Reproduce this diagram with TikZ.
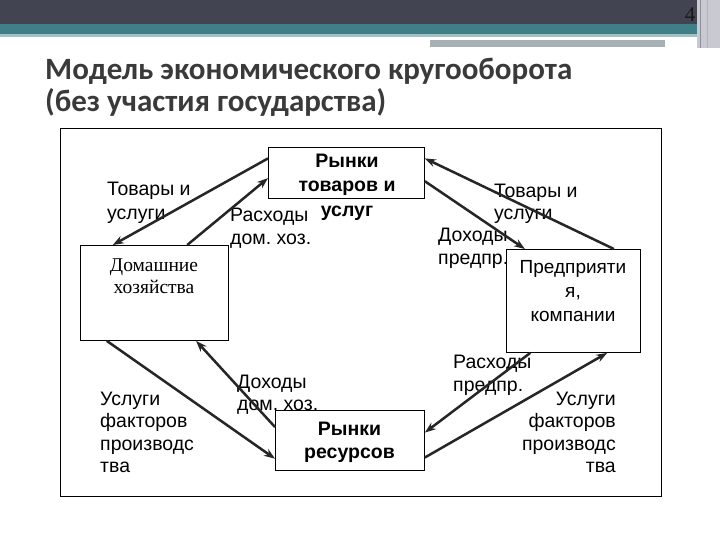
\documentclass[tikz,border=0pt]{standalone}
\usepackage{fontspec}
\setmainfont{Liberation Sans}
\newfontfamily\serifF{Liberation Serif}
\newfontfamily\titleF{Carlito}
\usetikzlibrary{arrows.meta,calc}
\frenchspacing
\definecolor{hdark}{HTML}{424452}
\definecolor{hteal}{HTML}{3E7F88}
\definecolor{hlight}{HTML}{A9BCC0}
\definecolor{hgray}{HTML}{A7B0B2}
\definecolor{hside}{HTML}{C9C9D2}
\definecolor{titlec}{HTML}{3A3A3A}
\newcommand\mlL[2]{\vtop{\baselineskip=#1\lineskiplimit=-100pt\halign{##\hfil\cr#2\crcr}}}
\newcommand\mlC[2]{\vtop{\baselineskip=#1\lineskiplimit=-100pt\halign{\hfil##\hfil\cr#2\crcr}}}
\newcommand\mlR[2]{\vtop{\baselineskip=#1\lineskiplimit=-100pt\halign{\hfil##\cr#2\crcr}}}
\tikzset{
  box/.style={draw, line width=0.9pt, inner sep=0pt, anchor=north west},
  flow/.style={line width=2.5pt, draw=black!85, -{Stealth[length=11pt,width=8pt]}},
  lbl/.style={font=\fontsize{19.5}{23}\selectfont, inner sep=0pt, anchor=base west},
  lblr/.style={font=\fontsize{19.5}{23}\selectfont, inner sep=0pt, anchor=base east},
  bold/.style={font=\fontsize{19.5}{24}\selectfont\bfseries, inner sep=0pt, anchor=base},
  plain/.style={font=\fontsize{19}{24}\selectfont, inner sep=0pt, anchor=base},
  serifl/.style={font=\serifF\fontsize{19.5}{22}\selectfont, inner sep=0pt, anchor=base},
  title/.style={font=\titleF\bfseries\fontsize{31}{32}\selectfont, text=titlec, inner sep=0pt, anchor=base west}
}
\begin{document}
\begin{tikzpicture}[x=1pt,y=-1pt]
\useasboundingbox (0,0) rectangle (720,540);
\fill[white] (0,0) rectangle (720,540);
% header
\fill[hdark] (0,0) rectangle (697,24);
\fill[hteal] (0,24) rectangle (697,34);
\fill[hlight] (0,34) rectangle (697,37);
\fill[hgray] (430,40) rectangle (665,47);
\fill[hside] (697,0) rectangle (720,48);
\draw[hdark!60, line width=1pt] (700,0) -- (700,48);
\draw[hdark!40, line width=1pt] (707,0) -- (707,48);
\node[font=\serifF\fontsize{21}{21}\selectfont, text=black!90, inner sep=0pt, anchor=base] (pg) at (690,22) {4};
% title
\node[title] (t1) at (45,80) {Модель экономического кругооборота};
\node[title] (t2) at (45,112) {(без участия государства)};
% frame
\draw[line width=0.9pt] (60,128) rectangle (661,496);
% boxes
\node[box, minimum width=156, minimum height=51] (mg) at (268,147) {};
\node[box, minimum width=148, minimum height=95] (hh) at (80,245) {};
\node[box, minimum width=134, minimum height=103] (fi) at (506,249) {};
\node[box, minimum width=149, minimum height=60] (mr) at (275,410) {};
% box texts
\node[bold] (mgt) at (347,168) {\mlC{24pt}{Рынки\cr товаров и\cr услуг}};
\node[serifl] (hht) at (154,271) {\mlC{22pt}{Домашние\cr хозяйства}};
\node[plain] (fit) at (573,273) {\mlC{24pt}{Предприяти\cr я,\cr компании}};
\node[bold] (mrt) at (349.5,435) {\mlC{23pt}{Рынки\cr ресурсов}};
% labels
\node[lbl] (l1) at (107,196) {\mlL{24pt}{Товары и\cr услуги}};
\node[lbl] (l2) at (230,222) {\mlL{23pt}{Расходы\cr дом. хоз.}};
\node[lbl] (l3) at (494,197) {\mlL{23pt}{Товары и\cr услуги}};
\node[lbl] (l4) at (438,241) {\mlL{23pt}{Доходы\cr предпр.}};
\node[lbl] (l5) at (100,405) {\mlL{22.5pt}{Услуги\cr факторов\cr производс\cr тва}};
\node[lbl] (l6) at (237,388) {\mlL{22.5pt}{Доходы\cr дом. хоз.}};
\node[lbl] (l7) at (453,368) {\mlL{23pt}{Расходы\cr предпр.}};
\node[lblr] (l8) at (616,405) {\mlR{22.5pt}{Услуги\cr факторов\cr производс\cr тва}};
% flows
\draw[flow] ($(mg.north west)!0.22!(mg.south west)$) -- ($(hh.north west)!0.22!(hh.north east)$);
\draw[flow] ($(hh.north west)!0.72!(hh.north east)$) -- ($(mg.north west)!0.60!(mg.south west)$);
\draw[flow] ($(fi.north west)!0.80!(fi.north east)$) -- ($(mg.north east)!0.22!(mg.south east)$);
\draw[flow] ($(mg.north east)!0.66!(mg.south east)$) -- ($(fi.north west)!0.14!(fi.north east)$);
\draw[flow] ($(hh.south west)!0.18!(hh.south east)$) -- ($(mr.north west)!0.80!(mr.south west)$);
\draw[flow] ($(mr.north west)!0.28!(mr.south west)$) -- ($(hh.south west)!0.78!(hh.south east)$);
\draw[flow] ($(fi.south west)!0.18!(fi.south east)$) -- ($(mr.north east)!0.37!(mr.south east)$);
\draw[flow] ($(mr.north east)!0.78!(mr.south east)$) -- ($(fi.south west)!0.75!(fi.south east)$);
\end{tikzpicture}
\end{document}
